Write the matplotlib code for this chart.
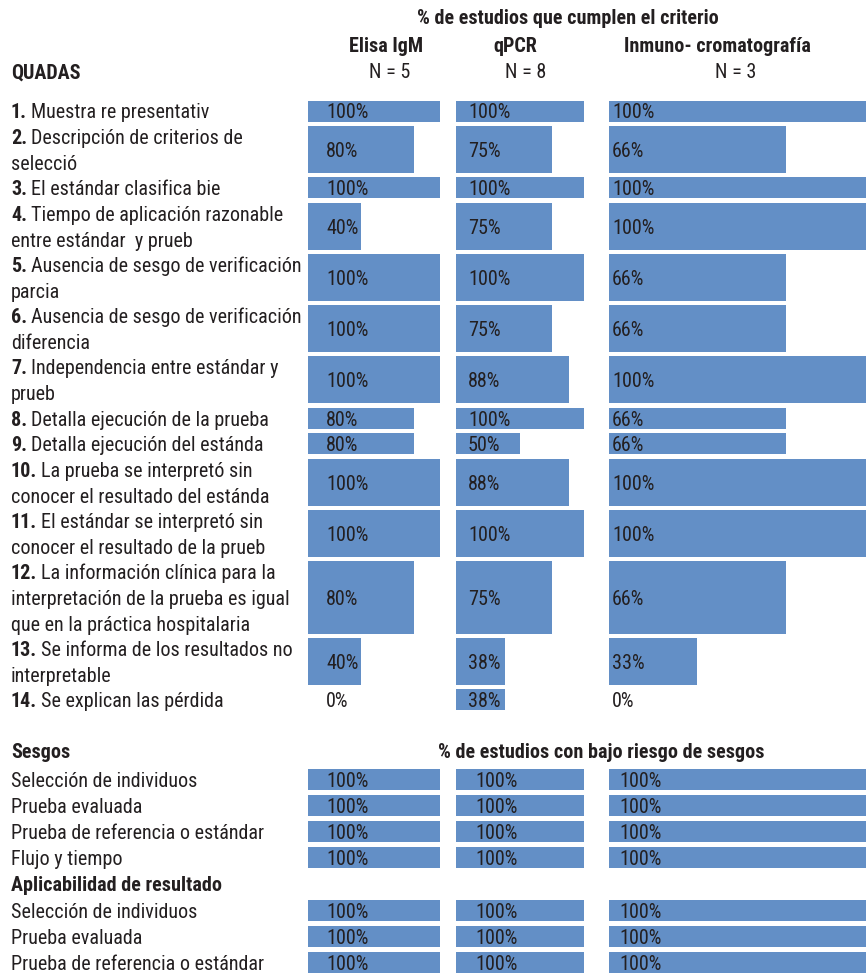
import matplotlib
matplotlib.use('Agg')
import matplotlib.pyplot as plt
from matplotlib import font_manager

# datos del gráfico
numeros = ['1.', '2.', '3.', '4.', '5.', '6.', '7.', '8.', '9.', '10.', '11.', '12.', '13.', '14.']
criterios = [
    ['Muestra re presentativ'],
    ['Descripción de criterios de', 'selecció'],
    ['El estándar clasifica bie'],
    ['Tiempo de aplicación razonable', 'entre estándar  y prueb'],
    ['Ausencia de sesgo de verificación', 'parcia'],
    ['Ausencia de sesgo de verificación', 'diferencia'],
    ['Independencia entre estándar y', 'prueb'],
    ['Detalla ejecución de la prueba'],
    ['Detalla ejecución del estánda'],
    ['La prueba se interpretó sin', 'conocer el resultado del estánda'],
    ['El estándar se interpretó sin', 'conocer el resultado de la prueb'],
    ['La información clínica para la', 'interpretación de la prueba es igual',
     'que en la práctica hospitalaria'],
    ['Se informa de los resultados no', 'interpretable'],
    ['Se explican las pérdida'],
]
metodos = ['Elisa IgM', 'qPCR', 'Inmuno- cromatografía']
n_estudios = [5, 8, 3]
elisa = [100, 80, 100, 40, 100, 100, 100, 80, 80, 100, 100, 80, 40, 0]
qpcr = [100, 75, 100, 75, 100, 75, 88, 100, 50, 88, 100, 75, 38, 38]
inmuno = [100, 66, 100, 100, 66, 66, 100, 66, 66, 100, 100, 66, 33, 0]

sesgos = ['Selección de individuos', 'Prueba evaluada', 'Prueba de referencia o estándar', 'Flujo y tiempo']
sesgos_elisa = [100, 100, 100, 100]
sesgos_qpcr = [100, 100, 100, 100]
sesgos_inmuno = [100, 100, 100, 100]

aplicabilidad = ['Selección de individuos', 'Prueba evaluada', 'Prueba de referencia o estándar']
aplic_elisa = [100, 100, 100]
aplic_qpcr = [100, 100, 100]
aplic_inmuno = [100, 100, 100]


def fuente_disponible(nombres):
    for n in nombres:
        try:
            font_manager.findfont(n, fallback_to_default=False)
            return n
        except ValueError:
            pass
    return 'DejaVu Sans'


fuente = fuente_disponible(['Liberation Sans Narrow', 'Roboto Condensed', 'Liberation Sans'])
tam = 14.5 if 'Narrow' in fuente or 'Condensed' in fuente else 12
plt.rcParams['font.family'] = [fuente, 'DejaVu Sans']
plt.rcParams['font.size'] = tam

azul = '#638fc6'
negro = '#231f20'
W, H = 866, 974

fig = plt.figure(figsize=(W / 100, H / 100), dpi=100)

# columnas: borde izquierdo y ancho (px) para 100 %
columnas = [(308, 132), (456, 128), (609, 268)]
desp_sup = [18, 12, 3]     # desplazamiento del texto del valor (parte superior)
desp_inf = [18, 19, 10]    # parte inferior

ejes = []
for izq, ancho in columnas:
    ax = fig.add_axes([izq / W, 0, ancho / W, 1])
    ax.set_xlim(0, 100)
    ax.set_ylim(H, 0)
    ax.axis('off')
    ejes.append(ax)

fondo = fig.add_axes([0, 0, 1, 1], zorder=3)
fondo.set_xlim(0, W)
fondo.set_ylim(H, 0)
fondo.axis('off')

# posiciones de las filas QUADAS
paso = 25.6
n_lineas = [len(c) for c in criterios]
centros = []
y = 111
for i, n in enumerate(n_lineas):
    if i > 0:
        y += (n_lineas[i - 1] + n) / 2 * paso
    centros.append(y)
altos = [26 * n - 5 for n in n_lineas]

# encabezados
fondo.text(568, 19, '% de estudios que cumplen el criterio', fontweight='bold',
           ha='center', va='center', color=negro)
centros_met = [386, 515, 717]
centros_n = [390, 526, 736]
for m, n, xm, xn in zip(metodos, n_estudios, centros_met, centros_n):
    fondo.text(xm, 47, m, fontweight='bold', ha='center', va='center', color=negro)
    fondo.text(xn, 73, f'N = {n}', ha='center', va='center', color=negro)
fondo.text(11, 73, 'QUADAS', fontweight='bold', va='center', color=negro)

# criterios
for num, lineas, yc in zip(numeros, criterios, centros):
    for j, linea in enumerate(lineas):
        yl = yc + (j - (len(lineas) - 1) / 2) * 26
        if j == 0:
            t = fondo.text(11, yl, num, fontweight='bold', va='center_baseline', color=negro)
            fondo.annotate(linea, xy=(1, 0), xycoords=t, xytext=(3, 0),
                           textcoords='offset points', va='bottom', ha='left', color=negro)
        else:
            fondo.text(11, yl, linea, va='center_baseline', color=negro)

for k, (ax, valores) in enumerate(zip(ejes, [elisa, qpcr, inmuno])):
    ax.barh(centros, valores, height=altos, color=azul, left=0)
    for v, yc in zip(valores, centros):
        fondo.text(columnas[k][0] + desp_sup[k], yc, f'{v}%', va='center_baseline', color=negro)

# sesgos y aplicabilidad
fondo.text(11, 753, 'Sesgos', fontweight='bold', va='center', color=negro)
fondo.text(601, 753, '% de estudios con bajo riesgo de sesgos', fontweight='bold',
           ha='center', va='center', color=negro)

paso_inf = 26.1
y_ses = [779.5 + i * paso_inf for i in range(len(sesgos))]
y_apl_titulo = 779.5 + len(sesgos) * paso_inf
y_apl = [y_apl_titulo + (i + 1) * paso_inf for i in range(len(aplicabilidad))]

fondo.text(11, y_apl_titulo, 'Aplicabilidad de resultado', fontweight='bold',
           va='center_baseline', color=negro)
for nombre, yy in zip(sesgos, y_ses):
    fondo.text(11, yy, nombre, va='center_baseline', color=negro)
for nombre, yy in zip(aplicabilidad, y_apl):
    fondo.text(11, yy, nombre, va='center_baseline', color=negro)

for k, (ax, vs, va_) in enumerate(zip(ejes, [sesgos_elisa, sesgos_qpcr, sesgos_inmuno],
                                      [aplic_elisa, aplic_qpcr, aplic_inmuno])):
    ax.barh(y_ses, vs, height=21, color=azul)
    ax.barh(y_apl, va_, height=21, color=azul)
    for v, yy in zip(vs + va_, y_ses + y_apl):
        fondo.text(columnas[k][0] + desp_inf[k], yy, f'{v}%', va='center_baseline', color=negro)

fig.savefig('out.png', dpi=100)
